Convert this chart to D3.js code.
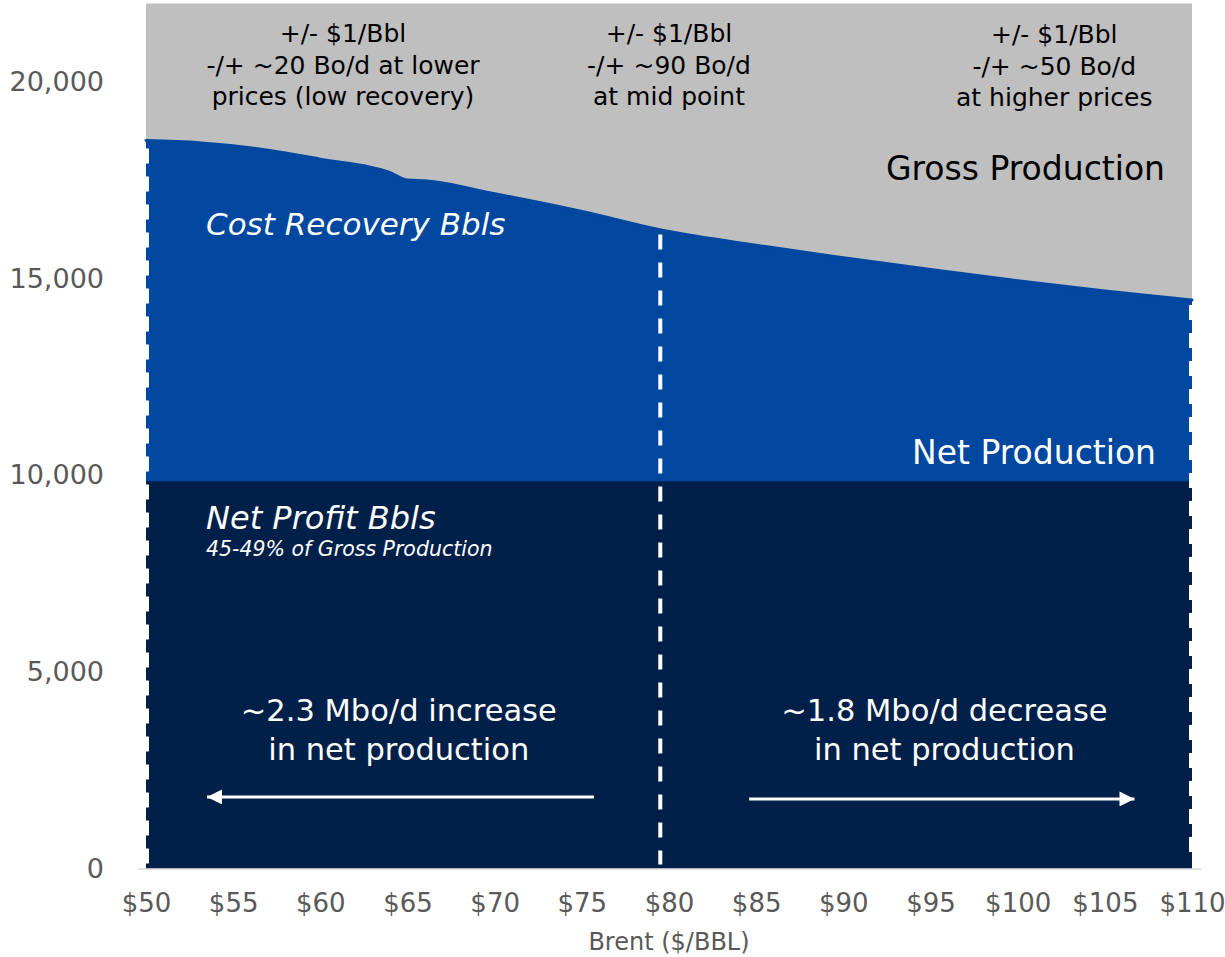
<!DOCTYPE html>
<html>
<head>
<meta charset="utf-8">
<script src="https://cdn.jsdelivr.net/npm/d3@7"></script>
<style>
  html, body { margin: 0; padding: 0; background: #ffffff; }
  svg { display: block; }
  text { font-family: "DejaVu Sans", sans-serif; }
</style>
</head>
<body>
<svg id="chart" width="1225" height="957"></svg>
<script>
// ---------------- DATA ----------------
const prices = [50, 53, 57, 60, 64, 65, 66, 70, 75, 80, 85, 90, 95, 100, 105, 110];
const costRecoveryTop = [18515, 18460, 18270, 18040, 17700, 17510, 17490, 17160, 16710, 16200, 15850, 15535, 15235, 14950, 14690, 14458];
const grossPrices = [50, 110];
const grossTop = [22000, 22000];
const netProfitTop = [9850, 9850];
const xTickValues = [50, 55, 60, 65, 70, 75, 80, 85, 90, 95, 100, 105, 110];
const yTickValues = [0, 5000, 10000, 15000, 20000];
const midPrice = 79.5;

const topNotes = [
  { price: 61.3, lines: ["+/- $1/Bbl", "-/+ ~20 Bo/d at lower", "prices (low recovery)"] },
  { price: 80.0, lines: ["+/- $1/Bbl", "-/+ ~90 Bo/d", "at mid point"] },
  { price: 102.1, lines: ["+/- $1/Bbl", "-/+ ~50 Bo/d", "at higher prices"] }
];
const bottomNotes = [
  { price: 64.5, lines: ["~2.3 Mbo/d increase", "in net production"] },
  { price: 95.8, lines: ["~1.8 Mbo/d decrease", "in net production"] }
];
const arrows = [
  { from: 75.7, to: 53.5, value: 1820 },
  { from: 84.6, to: 106.7, value: 1770 }
];

// ---------------- SETUP ----------------
const svg = d3.select("#chart");
const x = d3.scaleLinear().domain([50, 110]).range([146, 1192]);
const y = d3.scaleLinear().domain([0, 22000]).range([868.5, 3.5]);

const C = { gray: "#bfbfbf", blue: "#0047a0", navy: "#00204a", tick: "#595959" };

// gross production (gray)
const grossData = grossPrices.map((p, i) => ({ p, v: grossTop[i], n: netProfitTop[i] }));
svg.append("path")
  .datum(grossData)
  .attr("fill", C.gray)
  .attr("d", d3.area().x(d => x(d.p)).y0(y(0)).y1(d => y(d.v)));

// cost recovery (blue)
const crData = prices.map((p, i) => ({ p, v: costRecoveryTop[i] }));
const crArea = d3.area().curve(d3.curveMonotoneX).x(d => x(d.p)).y0(y(0)).y1(d => y(d.v));
svg.append("path").datum(crData).attr("fill", C.blue).attr("d", crArea);
svg.append("path").datum(crData)
  .attr("fill", "none").attr("stroke", C.blue).attr("stroke-width", 3).attr("stroke-linecap", "round")
  .attr("d", d3.line().curve(d3.curveMonotoneX).x(d => x(d.p)).y(d => y(d.v)));

// net profit (navy)
svg.append("path")
  .datum(grossData)
  .attr("fill", C.navy)
  .attr("d", d3.area().x(d => x(d.p)).y0(y(0)).y1(d => y(d.n)));

// dashed verticals
const crInterp = (p) => {
  const i = d3.bisectLeft(prices, p);
  if (prices[i] === p) return costRecoveryTop[i];
  const t = (p - prices[i - 1]) / (prices[i] - prices[i - 1]);
  return costRecoveryTop[i - 1] + t * (costRecoveryTop[i] - costRecoveryTop[i - 1]);
};
const dashLines = [
  { px: x(50) + 1.5, top: y(costRecoveryTop[0]) + 8, w: 3 },
  { px: x(midPrice), top: y(crInterp(midPrice)) + 5, w: 4 },
  { px: x(110) - 1.5, top: y(costRecoveryTop[costRecoveryTop.length - 1]) + 5, w: 3 }
];
svg.selectAll(".dash").data(dashLines).enter().append("line")
  .attr("x1", d => d.px).attr("x2", d => d.px)
  .attr("y1", d => d.top).attr("y2", y(0) - 4)
  .attr("stroke", "#ffffff").attr("stroke-width", d => d.w)
  .attr("stroke-dasharray", "15,13");

// axis baseline
svg.append("line")
  .attr("x1", 138).attr("x2", 1201).attr("y1", y(0) + 0.5).attr("y2", y(0) + 0.5)
  .attr("stroke", "#d9d9d9").attr("stroke-width", 1.5);

// Y axis
const yAxis = svg.append("g")
  .attr("transform", "translate(104,0)")
  .call(d3.axisLeft(y).tickValues(yTickValues).tickFormat(d3.format(",")).tickSize(0).tickPadding(0));
yAxis.select(".domain").remove();
yAxis.selectAll("text").attr("fill", C.tick).style("font-size", "27px").style("font-family", "DejaVu Sans");

// X axis
const xAxis = svg.append("g")
  .attr("transform", `translate(0,${y(0)})`)
  .call(d3.axisBottom(x).tickValues(xTickValues).tickFormat(d => "$" + d).tickSize(0).tickPadding(25));
xAxis.select(".domain").remove();
xAxis.selectAll("text").attr("fill", C.tick).style("font-size", "26px").style("font-family", "DejaVu Sans");

svg.append("text")
  .attr("x", x(80)).attr("y", 950)
  .attr("text-anchor", "middle").attr("fill", C.tick)
  .style("font-size", "24px")
  .text("Brent ($/BBL)");

// Top notes
topNotes.forEach((n, k) => {
  const t = svg.append("text").attr("text-anchor", "middle").attr("fill", "#000").style("font-size", "25px");
  n.lines.forEach((line, i) => {
    t.append("tspan").attr("x", x(n.price)).attr("y", (k === 2 ? 43 : 42) + i * 31.5).text(line);
  });
});

// Region labels
svg.append("text").attr("x", 1165).attr("y", 180).attr("text-anchor", "end")
  .attr("fill", "#000").style("font-size", "33px").text("Gross Production");
svg.append("text").attr("x", 206).attr("y", 235)
  .attr("fill", "#fff").style("font-size", "31px").style("font-style", "italic").text("Cost Recovery Bbls");
svg.append("text").attr("x", 1156).attr("y", 464).attr("text-anchor", "end")
  .attr("fill", "#fff").style("font-size", "33px").text("Net Production");
svg.append("text").attr("x", 206).attr("y", 529)
  .attr("fill", "#fff").style("font-size", "32px").style("font-style", "italic").text("Net Profit Bbls");
svg.append("text").attr("x", 206).attr("y", 556)
  .attr("fill", "#fff").style("font-size", "20.5px").style("font-style", "italic").text("45-49% of Gross Production");

// Bottom notes
bottomNotes.forEach(n => {
  const t = svg.append("text").attr("text-anchor", "middle").attr("fill", "#fff").style("font-size", "30.5px");
  n.lines.forEach((line, i) => {
    t.append("tspan").attr("x", x(n.price)).attr("y", 721 + i * 39).text(line);
  });
});

// Arrows
svg.append("defs").append("marker")
  .attr("id", "arrowhead").attr("viewBox", "0 0 10 10").attr("refX", 10).attr("refY", 5)
  .attr("markerWidth", 5).attr("markerHeight", 5).attr("markerUnits", "strokeWidth").attr("orient", "auto")
  .append("path").attr("d", "M0,0 L10,5 L0,10 Z").attr("fill", "#fff");
arrows.forEach(a => {
  svg.append("line")
    .attr("x1", x(a.from)).attr("x2", x(a.to)).attr("y1", y(a.value)).attr("y2", y(a.value))
    .attr("stroke", "#fff").attr("stroke-width", 3).attr("marker-end", "url(#arrowhead)");
});
</script>
</body>
</html>
